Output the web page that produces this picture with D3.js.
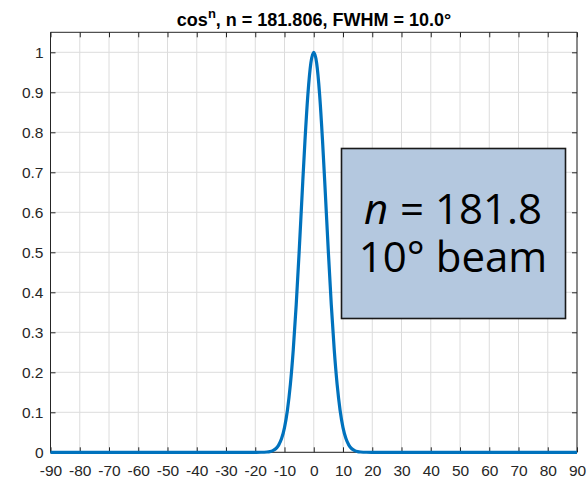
<!DOCTYPE html>
<html><head><meta charset="utf-8">
<script src="https://cdn.jsdelivr.net/npm/d3@7"></script>
<style>body{margin:0;background:#fff;}svg{display:block;}</style>
</head><body>
<svg id="c" width="588" height="481"></svg>
<script>
// Data (angle in degrees, normalized intensity)
const angles = [-90,-60,-40,-30,-25,-20,-18,-16,-15,-14,-13,-12,-11,-10,-9,-8,-7,-6,-5,-4,-3,-2,-1,0,1,2,3,4,5,6,7,8,9,10,11,12,13,14,15,16,18,20,25,30,40,60,90];
const values = [0,0,0,0,0,0.00001,0.0001,0.00076,0.00183,0.00416,0.0089,0.018,0.0343,0.0618,0.1052,0.169,0.2566,0.3684,0.5,0.6418,0.7793,0.8951,0.9727,1,0.9727,0.8951,0.7793,0.6418,0.5,0.3684,0.2566,0.169,0.1052,0.0618,0.0343,0.018,0.0089,0.00416,0.00183,0.00076,0.0001,0.00001,0,0,0,0,0];
const xTicks = [-90,-80,-70,-60,-50,-40,-30,-20,-10,0,10,20,30,40,50,60,70,80,90];
const yTicks = [0,0.1,0.2,0.3,0.4,0.5,0.6,0.7,0.8,0.9,1];
const titleText = "FWHM = 10.0°";
const nTitle = "181.806";
const boxLine1 = "181.8";
const boxLine2 = "10° beam";

const svg = d3.select("#c");
const L = 50.5, R = 577, T = 32.3, B = 452.3;
const x = d3.scaleLinear().domain([-90, 90]).range([L, R]);
const y = d3.scaleLinear().domain([0, 1.05]).range([B, T]);
const axisCol = "#262626";
const font = "'Liberation Sans', Arial, Helvetica, sans-serif";

// grid
const g = svg.append("g");
g.selectAll(".gx").data(xTicks).enter().append("line")
  .attr("x1", d => x(d)).attr("x2", d => x(d)).attr("y1", T).attr("y2", B)
  .attr("stroke", "#dcdcdc").attr("stroke-width", 1);
g.selectAll(".gy").data(yTicks).enter().append("line")
  .attr("x1", L).attr("x2", R).attr("y1", d => y(d)).attr("y2", d => y(d))
  .attr("stroke", "#dcdcdc").attr("stroke-width", 1);

// axes
const xb = svg.append("g").attr("transform", `translate(0,${B})`)
  .call(d3.axisBottom(x).tickValues(xTicks).tickSize(-5).tickPadding(13).tickFormat(d => String(d)));
const xt = svg.append("g").attr("transform", `translate(0,${T})`)
  .call(d3.axisTop(x).tickValues(xTicks).tickSize(-5).tickFormat(""));
const yl = svg.append("g").attr("transform", `translate(${L},0)`)
  .call(d3.axisLeft(y).tickValues(yTicks).tickSize(-5).tickPadding(7).tickFormat(d => d === 0 ? "0" : d === 1 ? "1" : d3.format(".1f")(d)));
const yr = svg.append("g").attr("transform", `translate(${R},0)`)
  .call(d3.axisRight(y).tickValues(yTicks).tickSize(-5).tickFormat(""));
[xb, xt, yl, yr].forEach(a => {
  a.attr("font-family", font).attr("font-size", 15.5);
  a.select(".domain").attr("stroke", axisCol).attr("stroke-width", 1);
  a.selectAll(".tick line").attr("stroke", axisCol);
  a.selectAll("text").attr("fill", axisCol);
});
xt.select(".domain").attr("d", `M${L},0H${R}`);
yr.select(".domain").attr("d", `M0,${B}V${T}`);
xb.select(".domain").attr("d", `M${L},0H${R}`);
yl.select(".domain").attr("d", `M0,${B}V${T}`);

// curve
const pts = angles.map((a, i) => [a, values[i]]);
svg.append("path").datum(pts)
  .attr("fill", "none").attr("stroke", "#0072BD").attr("stroke-width", 3.2)
  .attr("stroke-linejoin", "round")
  .attr("d", d3.line().x(d => x(d[0])).y(d => y(d[1])).curve(d3.curveMonotoneX));

// title
const t = svg.append("text").attr("x", 314).attr("y", 26).attr("text-anchor", "middle")
  .attr("font-family", font).attr("font-size", 18).attr("font-weight", "bold").attr("fill", "#000");
t.append("tspan").text("cos");
t.append("tspan").attr("dy", -8).attr("font-size", 13).text("n");
t.append("tspan").attr("dy", 8).text(`, n = ${nTitle}, ${titleText}`);

// annotation box
svg.append("rect").attr("x", 341.5).attr("y", 148.5).attr("width", 224).attr("height", 170)
  .attr("fill", "#b4c8df").attr("stroke", "#1a1a1a").attr("stroke-width", 1.6);
const bf = "'Open Sans', 'Noto Sans', sans-serif";
const nTxt = svg.append("text").attr("y", 223.5)
  .attr("font-family", bf).attr("font-size", 42).attr("font-style", "italic").attr("fill", "#000").text("n");
const restTxt = svg.append("text").attr("y", 223.5)
  .attr("font-family", bf).attr("font-size", 42).attr("fill", "#000").text("= " + boxLine1);
const wN = nTxt.node().getComputedTextLength();
const wR = restTxt.node().getComputedTextLength();
const gap = 12;
const startX = 453 - (wN + gap + wR) / 2;
nTxt.attr("x", startX);
restTxt.attr("x", startX + wN + gap);
svg.append("text").attr("x", 453).attr("y", 272).attr("text-anchor", "middle")
  .attr("font-family", bf).attr("font-size", 42).attr("fill", "#000").text(boxLine2);
</script>
</body></html>
